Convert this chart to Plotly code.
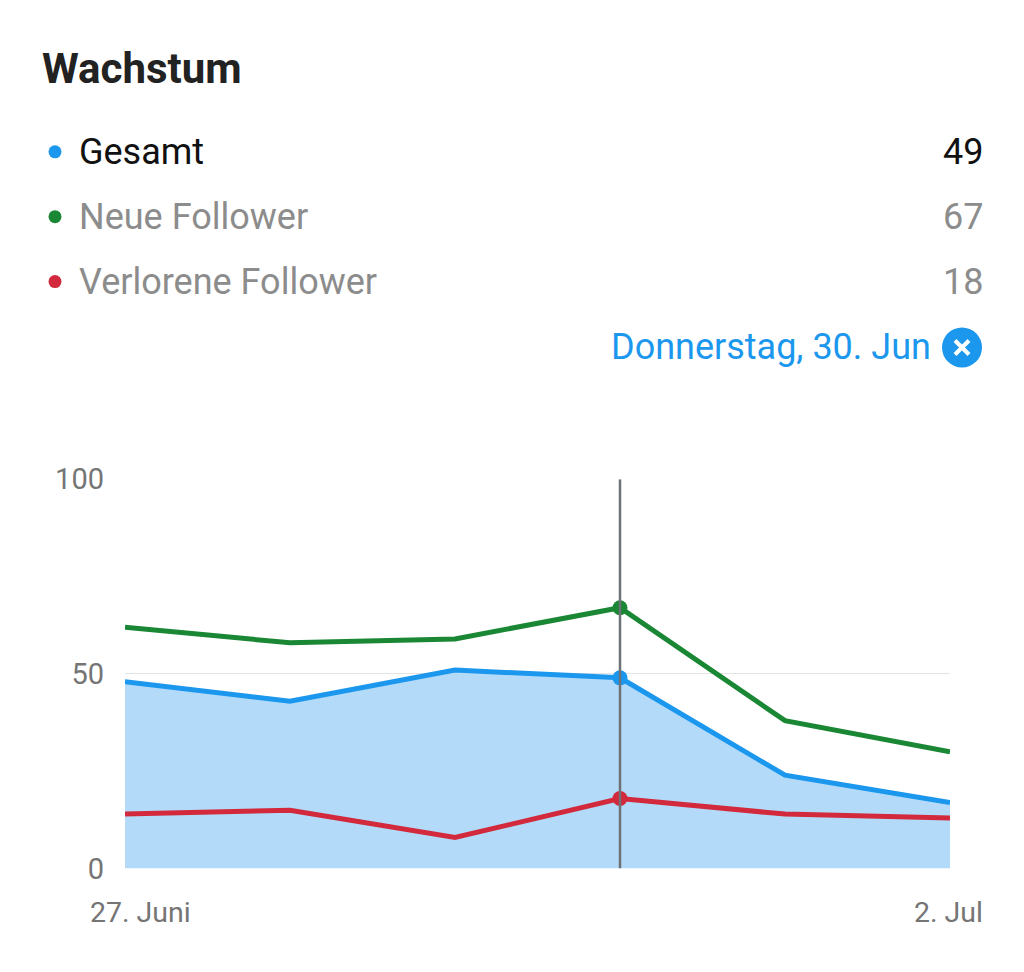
import plotly.graph_objects as go

# ---- data ----
dates = ["2022-06-27", "2022-06-28", "2022-06-29", "2022-06-30", "2022-07-01", "2022-07-02"]
gesamt = [48, 43, 51, 49, 24, 17]
neue = [62, 58, 59, 67, 38, 30]
verlorene = [14, 15, 8, 18, 14, 13]
series_names = ["Gesamt", "Neue Follower", "Verlorene Follower"]
x_tick_labels = ["27. Juni", "2. Jul"]
y_ticks = [0, 50, 100]
selected_index = 3
selected_label = "Donnerstag, 30. Jun"
title = "Wachstum"

# ---- styles ----
W, H = 1024, 972
BLUE = "#1c97ee"
BLUE_FILL = "#b3dbf9"
GREEN = "#1a8734"
RED = "#d22a3c"
GREY_TXT = "#8c8c8c"
AXIS_TXT = "#757575"
FONT = "Roboto"


def px(x):
    # screen x -> paper fraction (page has an 8px offset)
    return (x - 8) / W


def py(y):
    # screen y -> paper fraction (calibrated to the rendered page)
    return 1 - ((y - 23) / 0.9666) / H


series_values = [gesamt, neue, verlorene]
series_colors = [BLUE, GREEN, RED]

fig = go.Figure()

fig.add_trace(go.Scatter(x=dates, y=gesamt, mode="lines", fill="tozeroy",
                         fillcolor=BLUE_FILL, line=dict(color=BLUE, width=5),
                         hoverinfo="skip", showlegend=False))
fig.add_trace(go.Scatter(x=dates, y=neue, mode="lines",
                         line=dict(color=GREEN, width=5),
                         hoverinfo="skip", showlegend=False))
fig.add_trace(go.Scatter(x=dates, y=verlorene, mode="lines",
                         line=dict(color=RED, width=5),
                         hoverinfo="skip", showlegend=False))
# selected markers
for vals, col in zip(series_values, series_colors):
    fig.add_trace(go.Scatter(x=[dates[selected_index]], y=[vals[selected_index]],
                             mode="markers", marker=dict(color=col, size=15),
                             hoverinfo="skip", showlegend=False))
# vertical selection line
fig.add_trace(go.Scatter(x=[dates[selected_index], dates[selected_index]], y=[0, 100],
                         mode="lines", line=dict(color="#6e7276", width=2.5),
                         hoverinfo="skip", showlegend=False))

annotations = []
shapes = []

# title
annotations.append(dict(text="<b>" + title + "</b>", x=px(40), y=py(67), xref="paper", yref="paper",
                        xanchor="left", yanchor="middle", showarrow=False,
                        font=dict(family=FONT, size=42, color="#222222")))

# legend rows
row_y = [150, 215, 280]
for i, (name, vals, col) in enumerate(zip(series_names, series_values, series_colors)):
    txt_col = "#111111" if i == 0 else GREY_TXT
    shapes.append(dict(type="circle", xref="paper", yref="paper",
                       xsizemode="pixel", ysizemode="pixel",
                       xanchor=px(55), yanchor=py(row_y[i]),
                       x0=-6.5, x1=6.5, y0=-6.5, y1=6.5,
                       fillcolor=col, line=dict(width=0)))
    annotations.append(dict(text=name, x=px(77), y=py(row_y[i]), xref="paper", yref="paper",
                            xanchor="left", yanchor="middle", showarrow=False,
                            font=dict(family=FONT, size=36, color=txt_col)))
    annotations.append(dict(text=str(vals[selected_index]), x=px(985), y=py(row_y[i]),
                            xref="paper", yref="paper", xanchor="right", yanchor="middle",
                            showarrow=False, font=dict(family=FONT, size=36, color=txt_col)))

# selected date label + close icon
annotations.append(dict(text=selected_label, x=px(933), y=py(346), xref="paper", yref="paper",
                        xanchor="right", yanchor="middle", showarrow=False,
                        font=dict(family=FONT, size=36, color=BLUE)))
shapes.append(dict(type="circle", xref="paper", yref="paper",
                   xsizemode="pixel", ysizemode="pixel",
                   xanchor=px(962), yanchor=py(346),
                   x0=-20, x1=20, y0=-20, y1=20,
                   fillcolor=BLUE, line=dict(width=0)))
for sgn in (1, -1):
    shapes.append(dict(type="line", xref="paper", yref="paper",
                       xsizemode="pixel", ysizemode="pixel",
                       xanchor=px(962), yanchor=py(346),
                       x0=-7, x1=7, y0=-7 * sgn, y1=7 * sgn,
                       line=dict(color="white", width=4)))

# x axis labels
annotations.append(dict(text=x_tick_labels[0], x=dates[0], y=py(912), xref="x", yref="paper",
                        xanchor="left", yanchor="middle", xshift=-37, showarrow=False,
                        font=dict(family=FONT, size=28.5, color=AXIS_TXT)))
annotations.append(dict(text=x_tick_labels[1], x=dates[-1], y=py(912), xref="x", yref="paper",
                        xanchor="right", yanchor="middle", xshift=35, showarrow=False,
                        font=dict(family=FONT, size=28.5, color=AXIS_TXT)))

fig.update_layout(
    width=W, height=H,
    margin=dict(l=0, r=0, t=0, b=0),
    paper_bgcolor="white", plot_bgcolor="white",
    xaxis=dict(domain=[px(125), px(950)], range=[dates[0], dates[-1]],
               showticklabels=False, showgrid=False, zeroline=False, showline=False, ticks=""),
    yaxis=dict(domain=[py(868), py(478)], range=[0, 100], tickvals=y_ticks,
               showgrid=True, gridcolor="#e3e3e3", gridwidth=1, zeroline=False, showline=False,
               ticks="", ticklabelstandoff=20,
               tickfont=dict(family=FONT, size=29, color=AXIS_TXT)),
    annotations=annotations,
    shapes=shapes,
    showlegend=False,
)

fig.write_html("out.html")
